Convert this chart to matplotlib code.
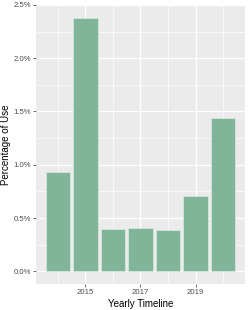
import matplotlib
matplotlib.use("Agg")
import matplotlib.pyplot as plt
from matplotlib.ticker import FixedLocator

years = [2014, 2015, 2016, 2017, 2018, 2019, 2020]
usage_pct = [0.93, 2.38, 0.40, 0.41, 0.39, 0.71, 1.44]
x_ticks = [2015, 2017, 2019]
y_ticks = [0.0, 0.5, 1.0, 1.5, 2.0, 2.5]
y_tick_labels = ["0.0%", "0.5%", "1.0%", "1.5%", "2.0%", "2.5%"]

plt.rcParams['font.family'] = ['Liberation Sans', 'DejaVu Sans']

fig = plt.figure(figsize=(2.49, 3.10), dpi=100)
ax = fig.add_axes([0.1446, 0.084, 0.839, 0.900])
ax.set_facecolor('#EBEBEB')

ax.bar(years, usage_pct, width=0.9, color='#80B59A', edgecolor='#D5E6DC', linewidth=0.6, zorder=3)

xmin, xmax = min(years) - 0.45, max(years) + 0.45
pad = (xmax - xmin) * 0.05
ax.set_xlim(xmin - pad, xmax + pad)
ymax = max(usage_pct)
ax.set_ylim(-ymax * 0.05, ymax * 1.05)

ax.set_xticks(x_ticks)
ax.set_xticklabels([str(t) for t in x_ticks])
ax.xaxis.set_minor_locator(FixedLocator([2014, 2016, 2018, 2020]))
ax.set_yticks(y_ticks)
ax.set_yticklabels(y_tick_labels)
ax.yaxis.set_minor_locator(FixedLocator([0.25, 0.75, 1.25, 1.75, 2.25]))

ax.grid(which='major', color='white', linewidth=0.9, zorder=0)
ax.grid(which='minor', color='white', linewidth=0.45, zorder=0)
ax.set_axisbelow(True)

for s in ax.spines.values():
    s.set_visible(False)

ax.tick_params(which='major', length=2.2, width=0.5, color='#333333',
               labelsize=5.6, labelcolor='#4D4D4D', pad=1.5)
ax.tick_params(which='minor', length=0)

ax.set_xlabel('Yearly Timeline', fontsize=7.0, color='black', labelpad=2)
ax.set_ylabel('Percentage of Use', fontsize=7.0, color='black', labelpad=1.5)

fig.savefig('out.png', dpi=100)
